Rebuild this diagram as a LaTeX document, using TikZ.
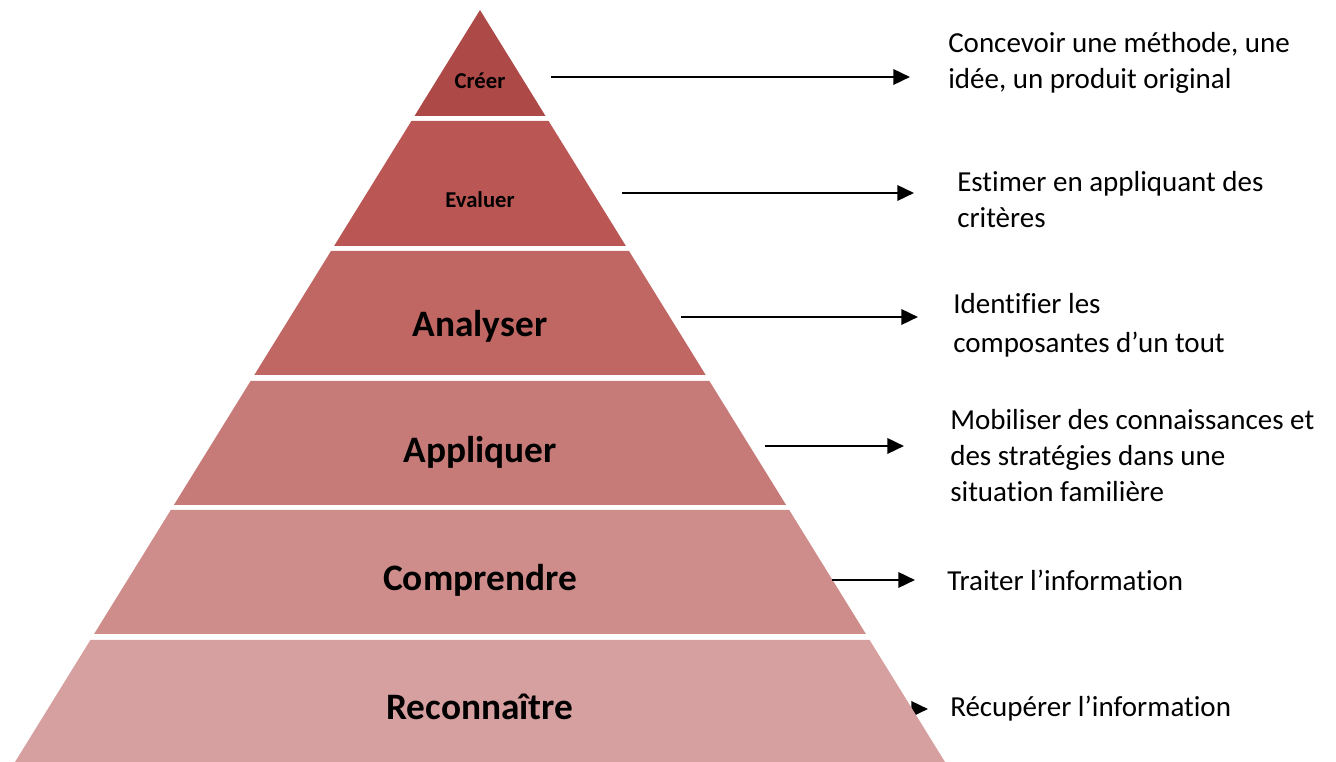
\documentclass[tikz,border=0pt]{standalone}
\usepackage{fontspec}
\setmainfont{Carlito}[Ligatures=NoCommon]
\usetikzlibrary{arrows.meta}
\definecolor{cA}{RGB}{173,74,71}
\definecolor{cB}{RGB}{186,87,84}
\definecolor{cC}{RGB}{192,103,100}
\definecolor{cD}{RGB}{199,123,121}
\definecolor{cE}{RGB}{206,140,138}
\definecolor{cF}{RGB}{215,160,160}
\tikzset{
  lvl/.style={font=\bfseries\fontsize{28}{33}\selectfont, text=black},
  lvlsmall/.style={font=\bfseries\fontsize{17}{20}\selectfont, text=black},
  desc/.style={font=\fontsize{21.75}{27}\selectfont, anchor=west, align=left, inner sep=0pt},
  arr/.style={line width=1.9pt, -{Triangle[length=12.5pt,width=11.5pt]}}
}
\begin{document}
\begin{tikzpicture}[x=0.75pt,y=-0.75pt]
\useasboundingbox (0,0) rectangle (1336,762);
% hidden arrow behind base layer
\coordinate (t6) at (880,709);
\coordinate (h6) at (928,709);
\draw[arr] (t6) -- (h6);
% pyramid layers
\fill[cA] (480,10) -- (545.5,116) -- (414.5,116) -- cycle;
\fill[cB] (411.4,121) -- (548.6,121) -- (625.9,246) -- (334.1,246) -- cycle;
\fill[cC] (331.0,251) -- (629.0,251) -- (705.7,375) -- (254.3,375) -- cycle;
\fill[cD] (250.6,381) -- (709.4,381) -- (786.1,505) -- (173.9,505) -- cycle;
\fill[cE] (170.8,510) -- (789.2,510) -- (865.9,634) -- (94.1,634) -- cycle;
\fill[cF] (90.4,640) -- (869.6,640) -- (945,762) -- (15,762) -- cycle;
% level labels
\node[lvlsmall] (l1) at (480,81) {Créer};
\node[lvlsmall] (l2) at (480,200) {Evaluer};
\node[lvl] (l3) at (480,326) {Analyser};
\node[lvl] (l4) at (480,452) {Appliquer};
\node[lvl] (l5) at (480,580) {Comprendre};
\node[lvl] (l6) at (480,707) {Reconnaître};
% descriptions
\node[desc] (d1) at (948,63) {Concevoir une méthode, une\\idée, un produit original};
\node[desc] (d2) at (957,200) {Estimer en appliquant des\\critères};
\node[desc] (d3) at (953,325) {Identifier les\\[2pt]composantes d’un tout};
\node[desc] (d4) at (950,456) {Mobiliser des connaissances et\\des stratégies dans une\\situation familière};
\node[desc] (d5) at (947,580) {Traiter l’information};
\node[desc] (d6) at (950,709) {Récupérer l’information};
% arrows
\coordinate (t1) at (551,77);  \coordinate (h1) at (910,77);
\coordinate (t2) at (622,193); \coordinate (h2) at (914,193);
\coordinate (t3) at (681,317); \coordinate (h3) at (918,317);
\coordinate (t4) at (765,446); \coordinate (h4) at (904,446);
\coordinate (t5) at (832,580); \coordinate (h5) at (915,580);
\draw[arr] (t1) -- (h1);
\draw[arr] (t2) -- (h2);
\draw[arr] (t3) -- (h3);
\draw[arr] (t4) -- (h4);
\draw[arr] (t5) -- (h5);
\end{tikzpicture}
\end{document}
